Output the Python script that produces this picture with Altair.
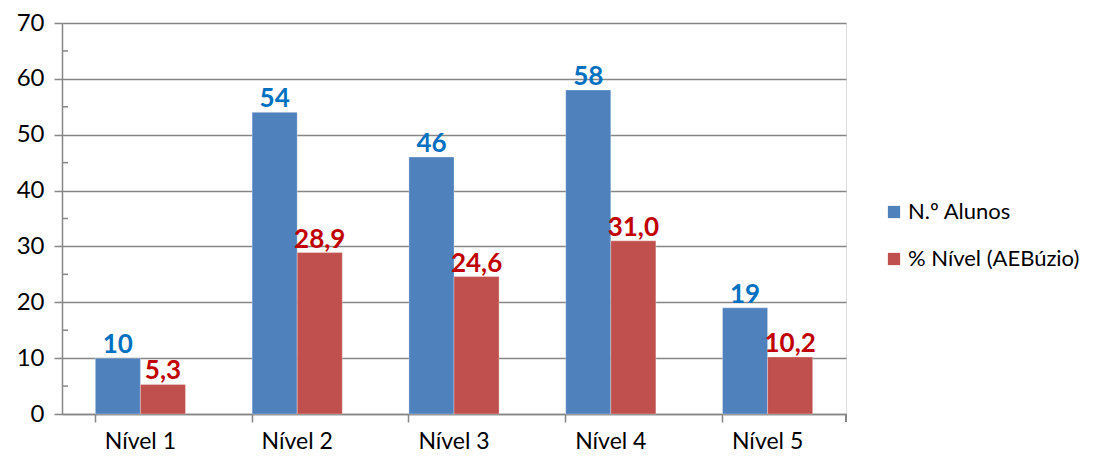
import altair as alt
import pandas as pd

categories = ["Nível 1", "Nível 2", "Nível 3", "Nível 4", "Nível 5"]
series_names = ["N.º Alunos", "% Nível (AEBúzio)"]
alunos = [10, 54, 46, 58, 19]
percent = [5.3, 28.9, 24.6, 31.0, 10.2]
y_ticks = [0, 10, 20, 30, 40, 50, 60, 70]
minor_ticks = [5, 15, 25, 35, 45, 55, 65]

bar_colors = ["#4F81BD", "#C0504D"]
label_colors = ["#0070C0", "#C00000"]

rows = []
for c, a, p in zip(categories, alunos, percent):
    rows.append({"cat": c, "serie": series_names[0], "v": a, "ord": 0,
                 "label": f"{a:d}"})
    rows.append({"cat": c, "serie": series_names[1], "v": p, "ord": 1,
                 "label": f"{p:.1f}".replace(".", ",")})
df = pd.DataFrame(rows)
minor_df = pd.DataFrame({"m": minor_ticks})

FONT = "Lato"
GRID = "#868686"

x_enc = alt.X("cat:N", sort=categories, title=None,
              scale=alt.Scale(paddingInner=0.425, paddingOuter=0.2125),
              axis=alt.Axis(labelAngle=0, labelFontSize=23, labelFont=FONT,
                            labelColor="#000000", domainColor=GRID, domainWidth=1.5,
                            tickColor=GRID, tickWidth=1.5, tickSize=8,
                            bandPosition=0, labelPadding=8))
xoff = alt.XOffset("serie:N", sort=series_names)
y_scale = alt.Scale(domain=[0, 70], nice=False)

bars = alt.Chart(df).mark_bar(stroke="white", strokeWidth=0.5, strokeOpacity=0.6).encode(
    x=x_enc,
    xOffset=xoff,
    y=alt.Y("v:Q", scale=y_scale, title=None,
            axis=alt.Axis(values=y_ticks, labelFontSize=24, labelFont=FONT,
                          labelColor="#000000", domainColor=GRID, domainWidth=1.5,
                          tickColor=GRID, tickWidth=1.5, tickSize=8,
                          gridColor=GRID, gridWidth=1.5, labelPadding=10)),
    color=alt.Color("serie:N", sort=series_names,
                    scale=alt.Scale(domain=series_names, range=bar_colors),
                    legend=alt.Legend(title=None, orient="none", legendX=821, legendY=178,
                                      symbolType="square", symbolSize=150,
                                      symbolStrokeWidth=0, labelFontSize=22,
                                      labelFont=FONT, labelColor="#000000",
                                      labelLimit=400,
                                      rowPadding=25, labelOffset=3)),
)

labels = alt.Chart(df).mark_text(baseline="bottom", dy=0, fontSize=26,
                                 fontWeight="bold", font=FONT).encode(
    x=alt.X("cat:N", sort=categories),
    xOffset=xoff,
    y=alt.Y("v:Q", scale=y_scale),
    text="label:N",
    color=alt.Color("serie:N", sort=series_names,
                    scale=alt.Scale(domain=series_names, range=label_colors),
                    legend=None),
)

minor = alt.Chart(minor_df).mark_rule(color=GRID, strokeWidth=1.5).encode(
    y=alt.Y("m:Q", scale=y_scale),
    x=alt.value(0),
    x2=alt.value(6),
)

end_tick = alt.Chart(minor_df).mark_rule(color=GRID, strokeWidth=1.5).encode(
    x=alt.value(784),
    y=alt.value(391),
    y2=alt.value(399),
)

chart = alt.layer(bars, labels, minor, end_tick).resolve_scale(color="independent").properties(
    width=784, height=391,
    autosize=alt.AutoSizeParams(type="none"),
    padding={"left": 54, "top": 15, "right": 244, "bottom": 44},
).configure_view(strokeWidth=0).configure(background="white")

chart.save("out.html", embed_options={"renderer": "svg", "actions": False})
